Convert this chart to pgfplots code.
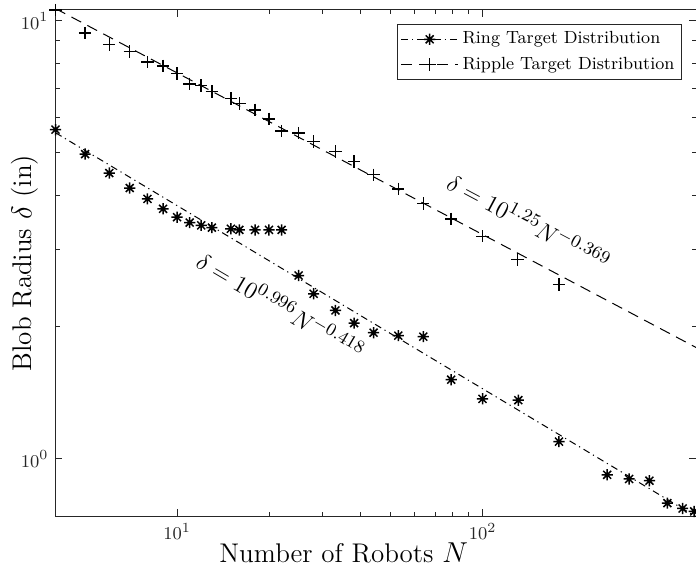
\documentclass[border=0pt]{standalone}
\usepackage{pgfplots}
\pgfplotsset{compat=1.18}

% MATLAB style asterisk: a plus and a cross on top of each other
\pgfdeclareplotmark{mstar}{%
  \pgfpathmoveto{\pgfqpoint{-\pgfplotmarksize}{0pt}}%
  \pgfpathlineto{\pgfqpoint{\pgfplotmarksize}{0pt}}%
  \pgfpathmoveto{\pgfqpoint{0pt}{-\pgfplotmarksize}}%
  \pgfpathlineto{\pgfqpoint{0pt}{\pgfplotmarksize}}%
  \pgfpathmoveto{\pgfqpoint{-0.7071\pgfplotmarksize}{-0.7071\pgfplotmarksize}}%
  \pgfpathlineto{\pgfqpoint{0.7071\pgfplotmarksize}{0.7071\pgfplotmarksize}}%
  \pgfpathmoveto{\pgfqpoint{-0.7071\pgfplotmarksize}{0.7071\pgfplotmarksize}}%
  \pgfpathlineto{\pgfqpoint{0.7071\pgfplotmarksize}{-0.7071\pgfplotmarksize}}%
  \pgfusepathqstroke}

\tikzset{
  ringline/.style={dash pattern=on 3.5pt off 2pt on 0.6pt off 2pt},
  rippleline/.style={dash pattern=on 5.5pt off 3.5pt},
}

\begin{document}
\begin{tikzpicture}
\begin{axis}[
    scale only axis,
    width=320.25pt, height=253pt,
    xmode=log, ymode=log,
    xmin=4, xmax=500,
    ymin=0.74, ymax=10.58,
    axis line style={black!85, line width=0.5pt},
    every tick/.style={black!85, line width=0.5pt},
    major tick length=3.5pt, minor tick length=2.2pt,
    tick align=inside,
    xtick={10,100}, ytick={1,10},
    ticklabel style={font=\fontsize{9.5}{11}\selectfont, text=black!85},
    xlabel={Number of Robots $N$},
    ylabel={Blob Radius $\delta$ (in)},
    label style={font=\fontsize{13.5}{16}\selectfont},
    xlabel style={at={(axis description cs:0.45,0)}, anchor=center, yshift=-18.5pt},
    ylabel style={at={(axis description cs:-0.0476,0.5)}, anchor=center, rotate=0},
    legend style={at={(rel axis cs:0.978,0.972)}, anchor=north east,
        draw=black!85, line width=0.5pt, font=\fontsize{8.8}{10.5}\selectfont,
        inner sep=1.5pt, row sep=1pt},
    legend cell align=left,
    legend image code/.code={\draw[mark repeat=2,mark phase=2,#1]
        plot coordinates {(0cm,0cm) (0.5cm,0cm) (1cm,0cm)};},
]

% ring target distribution
\addplot[black, line width=0.75pt, only marks, mark=mstar, mark size=2.8pt, forget plot] coordinates {
(4,5.64) (5,4.96) (6,4.49) (7,4.15) (8,3.92) (9,3.72) (10,3.56) (11,3.46)
(12,3.41) (13,3.37) (15,3.35) (16,3.33) (18,3.33) (20,3.33) (22,3.33)
(25,2.62) (28,2.38) (33,2.18) (38,2.04) (44,1.94) (53,1.91) (64,1.90)
(79,1.515) (100,1.37) (131,1.36) (178,1.094) (256,0.919) (302,0.899)
(352,0.891) (403,0.792) (452,0.770) (493,0.758)
};
% fit: delta = 10^0.996 N^-0.418
\addplot[black, line width=0.5pt, ringline, forget plot] coordinates {
(4,5.55) (500,0.7376)
};

% ripple target distribution
\addplot[black, line width=0.75pt, only marks, mark=+, mark size=3.1pt, forget plot] coordinates {
(4,10.58) (5,9.37) (6,8.82) (7,8.51) (8,8.05) (9,7.89) (10,7.57) (11,7.18)
(12,7.11) (13,6.90) (15,6.64) (16,6.47) (18,6.26) (20,5.97) (22,5.60)
(25,5.54) (28,5.30) (33,5.03) (38,4.77) (44,4.45) (53,4.13) (64,3.83)
(79,3.53) (100,3.22) (130,2.85) (178,2.50)
};
% fit: delta = 10^1.25 N^-0.369
\addplot[black, line width=0.5pt, rippleline, forget plot] coordinates {
(4,10.66) (500,1.795)
};

\addlegendimage{black, line width=0.5pt, ringline, mark=mstar, mark size=2.8pt, mark options={solid, line width=0.75pt}}
\addlegendentry{Ring Target Distribution}
\addlegendimage{black, line width=0.5pt, rippleline, mark=+, mark size=3.1pt, mark options={solid, line width=0.75pt}}
\addlegendentry{Ripple Target Distribution}

\node[rotate=-28, font=\fontsize{13}{15}\selectfont] at (axis cs:142,3.48)
    {$\delta = 10^{1.25} N^{-0.369}$};
\node[rotate=-30.5, font=\fontsize{13}{15}\selectfont] at (axis cs:21.9,2.235)
    {$\delta = 10^{0.996} N^{-0.418}$};

\coordinate (bl) at (rel axis cs:0,0);
\coordinate (tr) at (rel axis cs:1,1);
\end{axis}
\pgfresetboundingbox
\path ([xshift=-27.75pt,yshift=-26.5pt]bl) rectangle ([yshift=5pt]tr);
\end{tikzpicture}
\end{document}
